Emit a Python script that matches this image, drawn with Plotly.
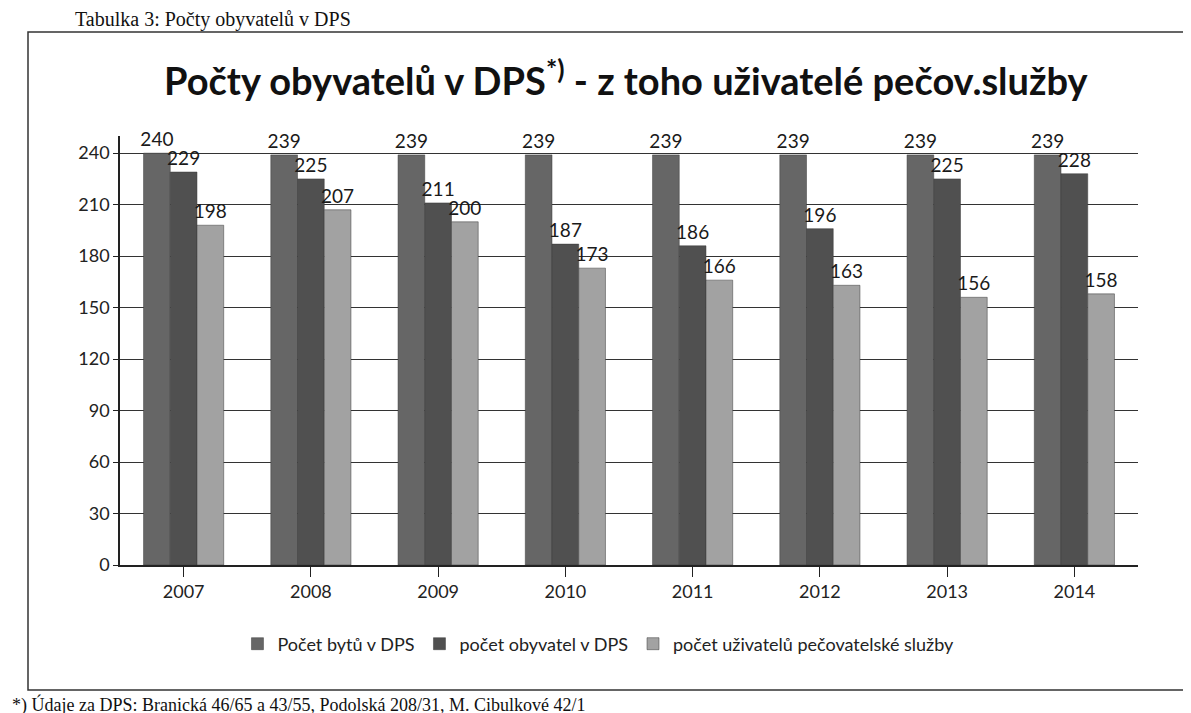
import plotly.graph_objects as go

years = ["2007", "2008", "2009", "2010", "2011", "2012", "2013", "2014"]
byty = [240, 239, 239, 239, 239, 239, 239, 239]
obyvatele = [229, 225, 211, 187, 186, 196, 225, 228]
uzivatele = [198, 207, 200, 173, 166, 163, 156, 158]
y_ticks = [0, 30, 60, 90, 120, 150, 180, 210, 240]

series = [
    ("Počet bytů v DPS", byty, "#666666"),
    ("počet obyvatel v DPS", obyvatele, "#505050"),
    ("počet uživatelů pečovatelské služby", uzivatele, "#a2a2a2"),
]

FONT = "Lato"
fig = go.Figure()
for name, vals, col in series:
    fig.add_trace(go.Bar(
        x=years, y=vals, name=name,
        marker=dict(color=col, line=dict(color="#3a3a3a", width=0.5)),
        text=[str(v) for v in vals], textposition="outside",
        constraintext="none", cliponaxis=False,
        textfont=dict(family=FONT, size=19, color="#1a1a1a"),
    ))

# plot area in pixels: left 112, right 1130, top 128, bottom 557
L, R, T, B = 112, 1130, 128, 557
W, H = R - L, B - T
def px(x): return (x - L) / W
def py(y): return (B - y) / H

fig.update_layout(
    width=1191, height=713,
    margin=dict(l=L, r=1191 - R, t=T, b=713 - B),
    paper_bgcolor="white", plot_bgcolor="white",
    barmode="group", bargap=0.37, bargroupgap=0.0,
    font=dict(family=FONT, size=17, color="#222"),
    showlegend=True,
    legend=dict(orientation="h", x=0.47, xanchor="center", y=py(636), yanchor="middle",
                font=dict(family=FONT, size=18, color="#222"), itemwidth=30,
                traceorder="normal"),
    xaxis=dict(showline=True, linecolor="#222", linewidth=1.5, ticks="outside",
               tickcolor="#222", ticklen=10, tickfont=dict(family=FONT, size=18, color="#222"),
               showgrid=False),
    yaxis=dict(range=[0, 250], tickvals=y_ticks, showline=True, linecolor="#222",
               linewidth=1.5, ticks="outside", tickcolor="#222", ticklen=5,
               showgrid=True, gridcolor="#333", gridwidth=1,
               tickfont=dict(family=FONT, size=18, color="#222"), zeroline=False),
    shapes=[dict(type="rect", xref="paper", yref="paper",
                 x0=px(20), x1=px(1178), y0=py(682), y1=py(24),
                 line=dict(color="#333", width=1.5), fillcolor="rgba(0,0,0,0)")],
    annotations=[
        dict(text="<b>Počty obyvatelů v DPS<sup>*)</sup> - z toho uživatelé pečov.služby</b>",
             xref="paper", yref="paper", x=px(618), y=py(70), xanchor="center",
             yanchor="middle", showarrow=False,
             font=dict(family=FONT, size=38, color="#111")),
        dict(text="Tabulka 3: Počty obyvatelů v DPS", xref="paper", yref="paper",
             x=px(345), y=py(11), xanchor="right", yanchor="middle", showarrow=False,
             font=dict(family="Liberation Serif", size=20, color="#111")),
        dict(text="*) Údaje za DPS: Branická 46/65 a 43/55, Podolská 208/31, M. Cibulkové 42/1",
             xref="paper", yref="paper", x=px(2), y=py(697), xanchor="left",
             yanchor="middle", showarrow=False,
             font=dict(family="Liberation Serif", size=18, color="#111")),
    ],
)

fig.write_html("out.html")
